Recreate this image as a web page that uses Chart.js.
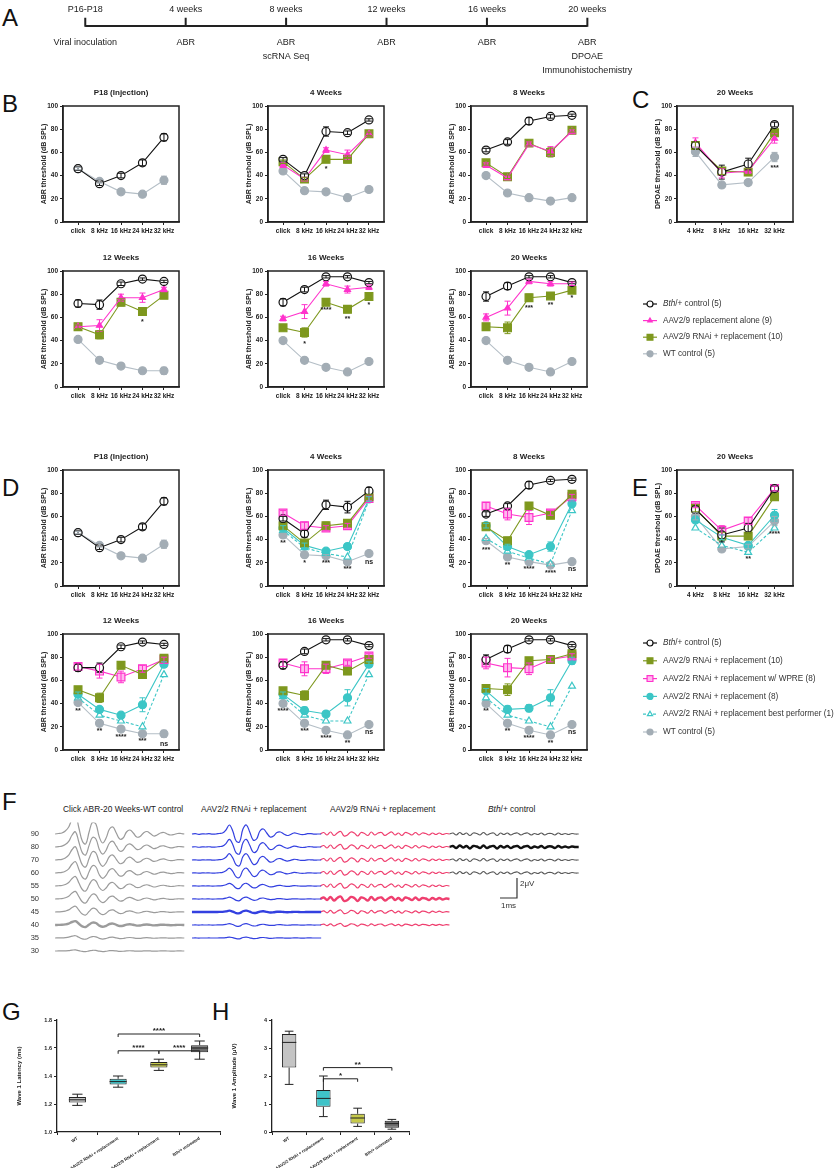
<!DOCTYPE html>
<html lang="en">
<head>
<meta charset="utf-8"/>
<title>Bth/+ ABR rescue figure</title>
<script src="https://cdn.jsdelivr.net/npm/chart.js@4.4.3/dist/chart.umd.min.js"></script>
<style>
  body { margin: 0; background: #fff; font-family: "Liberation Sans", Arial, sans-serif; }
  #page { position: relative; width: 839px; height: 1168px; overflow: hidden; }
  #page canvas { position: absolute; }
  .letter { position: absolute; font-size: 24px; line-height: 1; color: #111; }
  .ftitle { position: absolute; font-size: 8.4px; color: #222; white-space: nowrap; }
</style>
</head>
<body>
<div id="page">
  <div class="letter" style="left:2px;top:6px">A</div>
  <div class="letter" style="left:2px;top:92px">B</div>
  <div class="letter" style="left:632px;top:88px">C</div>
  <div class="letter" style="left:2px;top:476px">D</div>
  <div class="letter" style="left:632px;top:476px">E</div>
  <div class="letter" style="left:2px;top:790px">F</div>
  <div class="letter" style="left:2px;top:1000px">G</div>
  <div class="letter" style="left:212px;top:1000px">H</div>
  <div class="ftitle" style="left:63px;top:804px">Click ABR-20 Weeks-WT control</div>
  <div class="ftitle" style="left:201px;top:804px">AAV2/2 RNAi + replacement</div>
  <div class="ftitle" style="left:330px;top:804px">AAV2/9 RNAi + replacement</div>
  <div class="ftitle" style="left:488px;top:804px"><i>Bth</i>/+ control</div>
</div>
<script>
  // ---------- data ----------
  const timePoints = ['P16-P18', '4 weeks', '8 weeks', '12 weeks', '16 weeks', '20 weeks'];
  const timeTasks = [['Viral inoculation'], ['ABR'], ['ABR', 'scRNA Seq'], ['ABR'], ['ABR'], ['ABR', 'DPOAE', 'Immunohistochemistry']];

  const abrLabels = ['click', '8 kHz', '16 kHz', '24 kHz', '32 kHz'];
  const dpLabels = ['4 kHz', '8 kHz', '16 kHz', '32 kHz'];

  const seriesB = ['Bth/+ control (5)', 'AAV2/9 replacement alone (9)', 'AAV2/9 RNAi + replacement (10)', 'WT control (5)'];
  const seriesD = ['Bth/+ control (5)', 'AAV2/9 RNAi + replacement (10)', 'AAV2/2 RNAi + replacement w/ WPRE (8)',
                   'AAV2/2 RNAi + replacement (8)', 'AAV2/2 RNAi + replacement best performer (1)', 'WT control (5)'];

  // P18, before injection (dB SPL)
  const p18Bth = [46, 33, 40, 51, 73];
  const p18BthErr = [1.5, 1.5, 2, 2.5, 3];
  const p18WT = [46, 35, 26, 24, 36];
  const p18WTErr = [1, 1.5, 1, 1, 3.5];

  // panel B: rows follow seriesB
  const b4wk = [[54, 40, 78, 77, 88], [49, 37, 62, 58, 76], [52, 37, 54, 54, 76], [44, 27, 26, 21, 28]];
  const b4wkErr = [[1.5, 1.5, 4, 1.5, 1], [2, 1.5, 2, 4, 1.5], [1.5, 1.5, 2.5, 3, 1.5], [1.5, 2.5, 1, 1, 2.5]];
  const b4wkSig = ['', '', '*', '', ''];
  const b8wk = [[62, 69, 87, 91, 92], [49, 38, 67, 61, 78], [51, 39, 68, 60, 79], [40, 25, 21, 18, 21]];
  const b8wkErr = [[1.5, 2, 3, 1.5, 1], [2, 1.5, 2, 4, 2], [2, 1.5, 2.5, 4, 1.5], [2, 1, 1, 1, 1]];
  const b12wk = [[72, 71, 89, 93, 91], [52, 53, 77, 77, 84], [52, 45, 73, 65, 79], [41, 23, 18, 14, 14]];
  const b12wkErr = [[3, 4, 1.5, 1, 1], [1.5, 5, 3, 4, 2], [1.5, 3.5, 3, 3, 2], [2, 1, 1, 1, 3]];
  const b12wkSig = ['', '', '', '*', ''];
  const b16wk = [[73, 84, 95, 95, 90], [59, 65, 89, 84, 86], [51, 47, 73, 67, 78], [40, 23, 17, 13, 22]];
  const b16wkErr = [[3, 2, 1, 1, 1], [2, 6, 2, 3, 2], [2, 4, 1.5, 3, 1.5], [1, 1, 1, 1, 1]];
  const b16wkSig = ['', '*', '****', '**', '*'];
  const b20wk = [[78, 87, 95, 95, 90], [60, 68, 91, 89, 89], [52, 51, 77, 78.5, 83.5], [40, 23, 17, 13, 22]];
  const b20wkErr = [[4, 3, 1, 1, 1], [3, 6, 2, 2, 1.5], [2.5, 5, 3, 2, 1.5], [1, 1, 1, 1, 1]];
  const b20wkSig = ['', '', '***', '**', '*'];
  // panel C: DPOAE at 20 weeks
  const cDp = [[66, 43, 50, 84], [68.5, 42, 44, 72], [66, 44, 43, 77], [60.5, 32, 34, 56]];
  const cDpErr = [[3, 6, 5, 2], [4, 4, 2, 4], [3, 3, 3, 2], [4, 1.5, 2, 4]];
  const cDpSig = ['', '', '', '***'];

  // panel D: rows follow seriesD
  const d4wk = [[58, 45, 70, 68, 82], [52, 37, 52, 54, 77], [63, 52, 50, 52, 75.5], [50, 35, 30, 34, 75], [48, 33, 28, 25, 74], [44, 27, 26, 21, 28]];
  const d4wkErr = [[2, 3, 4, 5, 3], [2, 2, 3, 3, 2], [2, 3, 2, 2, 2], [2, 2, 2, 2, 2], null, [1.5, 2, 1, 1, 2]];
  const d4wkSig = ['**', '*', '***', '***', 'ns'];
  const d8wk = [[62, 69, 87, 91, 92], [51, 39, 69, 61, 79], [69, 62, 59, 63, 77], [52, 34, 27, 34, 71], [41, 30, 24, 19, 65], [39, 25, 21, 18, 21]];
  const d8wkErr = [[2, 2, 3, 1, 1], [2, 3, 3, 3, 1.5], [3, 5, 6, 2, 2], [2, 2, 2, 4, 3], null, [2, 1, 1, 1, 1]];
  const d8wkSig = ['***', '**', '****', '****', 'ns'];
  const d12wk = [[71, 71, 89, 93, 91], [52, 45, 73, 65, 79], [72, 68, 63, 70, 78], [48, 35, 30, 39, 74], [45, 30, 25, 20, 65], [41, 23, 18, 14, 14]];
  const d12wkErr = [[3, 4, 1.5, 1, 1], [2, 4, 3, 3, 2], [3, 6, 5, 3, 2], [2, 2, 2, 6, 2], null, [2, 1, 1, 1, 3]];
  const d12wkSig = ['**', '**', '****', '***', 'ns'];
  const d16wk = [[73, 85, 95, 95, 90], [51, 47, 73, 68, 78], [75, 70, 70, 75, 81], [48, 34, 31, 45, 74], [46, 30, 25, 25, 65], [40, 23, 17, 13, 22]];
  const d16wkErr = [[3, 2, 1, 1, 1], [2, 4, 2, 3, 2], [3, 6, 4, 2, 2], [2, 3, 2, 7, 2], null, [1, 1, 1, 1, 1]];
  const d16wkSig = ['****', '***', '****', '**', 'ns'];
  const d20wk = [[78, 87, 95, 95, 90], [53, 52, 77, 78, 83], [75, 71, 70, 78, 81], [51, 35, 36, 45, 77], [45, 30, 25, 20, 55], [40, 23, 17, 13, 22]];
  const d20wkErr = [[4, 3, 1, 1, 1], [2.5, 5, 2, 2, 1.5], [5, 8, 5, 2, 2], [2, 3, 3, 7, 3], null, [1, 1, 1, 1, 1]];
  const d20wkSig = ['**', '**', '****', '**', 'ns'];
  // panel E: DPOAE at 20 weeks
  const eDp = [[66, 44, 50, 84], [67, 43, 43, 77], [69.5, 48, 56, 84], [57, 42, 35, 61], [50, 35, 29, 50], [60, 32, 34, 56]];
  const eDpErr = [[3, 6, 4, 2], [3, 3, 3, 2], [2, 4, 3, 2], [2, 2, 2, 5], null, [3, 1.5, 2, 4]];
  const eDpSig = ['', '', '**', '****'];

  // panel F: click ABR traces, waveform shapes in µV sampled every 0.2 ms
  const levels = [90, 80, 70, 60, 55, 50, 45, 40, 35, 30];
  const wtWave = [0, 0.05, 0.1, 0.3, 0.7, 1.5, 1.9, 0.6, -0.7, -1.0, 0.2, 1.2, 1.0, -0.3, -0.9, -0.4, 0.5, 0.7, 0.1, -0.5,
                  -0.4, 0.2, 0.4, 0.1, -0.3, -0.25, 0.1, 0.25, 0.05, -0.2, -0.1, 0.1, 0.15, 0, -0.1, -0.05, 0.05, 0.05, 0];
  const aav22Wave = [0, 0.03, -0.03, 0.02, 0, 0.03, -0.02, 0, 0.05, 0.1, 0.4, 0.9, 0.3, -0.7, -0.8, 0.5, 0.9, 0.2, -0.6, -0.5,
                     0.3, 0.5, 0.1, -0.3, -0.2, 0.15, 0.2, 0, -0.15, -0.05, 0.1, 0.05, -0.05, -0.05, 0.03, 0.03, -0.02, 0, 0];
  const aav29Wave = [0, 0.15, -0.1, 0.2, -0.15, 0.1, 0.25, -0.2, -0.1, 0.2, 0.1, -0.2, 0.15, 0.05, -0.15, 0.2, -0.1, 0.1, 0.15, -0.15,
                     0.05, 0.2, -0.1, 0.1, -0.15, 0.15, 0.05, -0.1, 0.15, -0.1, 0.1, 0.05, -0.1, 0.1, -0.05, 0.1, -0.05, 0.05, 0];
  const bthWave = [0, 0.1, -0.1, 0.15, -0.05, 0.1, -0.15, 0.1, 0.05, -0.1, 0.15, -0.1, 0.05, 0.1, -0.15, 0.1, -0.05, 0.1, -0.1, 0.05,
                   0.1, -0.1, 0.05, 0.1, -0.1, 0.05, -0.05, 0.1, -0.1, 0.05, 0.05, -0.1, 0.1, -0.05, 0.05, -0.05, 0.05, 0, 0];
  // relative size of the response at each level (0 = not recorded)
  const wtGain = [1, 0.8, 0.7, 0.6, 0.5, 0.4, 0.3, 0.2, 0.12, 0.06];
  const aav22Gain = [1, 0.85, 0.7, 0.55, 0.3, 0.2, 0.15, 0.15, 0.1, 0];
  const aav29Gain = [1, 1, 1, 1, 1, 1, 0.8, 0.6, 0, 0];
  const bthGain = [1, 1, 1, 1, 0, 0, 0, 0, 0, 0];
  const thresholdLevel = [40, 45, 50, 80];
  const scaleBar = { ms: 1, uv: 2 };

  // panels G, H: [min, q1, median, q3, max]
  const boxGroups = ['WT', 'AAV2/2 RNAi + replacement', 'AAV2/9 RNAi + replacement', 'Bth/+ untreated'];
  const latencyStats = [[1.19, 1.21, 1.23, 1.25, 1.27], [1.32, 1.34, 1.36, 1.38, 1.40], [1.44, 1.46, 1.48, 1.50, 1.52], [1.52, 1.57, 1.60, 1.62, 1.65]];
  const amplitudeStats = [[1.7, 2.3, 3.2, 3.5, 3.6], [0.55, 0.9, 1.2, 1.5, 2.0], [0.2, 0.3, 0.5, 0.65, 0.85], [0.1, 0.15, 0.3, 0.4, 0.45]];
  const latencySig = [[1, 3, '****'], [1, 2, '****'], [2, 3, '****']];
  const amplitudeSig = [[1, 3, '**'], [1, 2, '*']];

  // ---------- styles / layout ----------
  const FONT = '"Liberation Sans", Arial, sans-serif';
  Chart.defaults.font.family = FONT;
  Chart.defaults.color = '#222';
  Chart.defaults.animation = false;
  Chart.defaults.responsive = false;
  Chart.defaults.plugins.legend.display = false;
  Chart.defaults.plugins.tooltip.enabled = false;

  const sBth = { color: '#111', fill: '#fff', point: 'circle', r: 4 };
  const sRepl = { color: '#ff33cc', fill: '#ff33cc', point: 'triangle', r: 3.5 };
  const sOlive = { color: '#7e981e', fill: '#7e981e', point: 'rect', r: 5.5 };
  const sWT = { color: '#a3adb5', fill: '#a3adb5', line: '#b4bec6', point: 'circle', r: 4 };
  const sWPRE = { color: '#ff33cc', fill: '#ffb8ee', point: 'rect', r: 5.5 };
  const sTeal = { color: '#3cc6c6', fill: '#3cc6c6', point: 'circle', r: 4 };
  const sBest = { color: '#3cc6c6', fill: '#fff', point: 'triangle', r: 4, dash: [3, 2] };
  const stylesB = [sBth, sRepl, sOlive, sWT];
  const stylesD = [sBth, sOlive, sWPRE, sTeal, sBest, sWT];
  const waveColors = ['#9b9b9b', '#3340e0', '#ef3f6f', '#5a5a5a'];
  const boxFill = ['#c4c4c4', '#3fc3c8', '#c6c94a', '#6e6e6e'];

  const PLOT = 116, YW = 23, XH = 22, TH = 24;
  const page = document.getElementById('page');
  function place(x, y, w, h) {
    const c = document.createElement('canvas');
    c.width = w; c.height = h;
    c.style.left = x + 'px'; c.style.top = y + 'px';
    page.appendChild(c);
    return c;
  }

  // ---------- plugins ----------
  const framePlugin = {
    id: 'frame',
    afterDraw(chart, args, opts) {
      const a = chart.chartArea, ctx = chart.ctx;
      ctx.save();
      ctx.strokeStyle = '#222'; ctx.lineWidth = 1.5;
      ctx.strokeRect(a.left, a.top, a.right - a.left, a.bottom - a.top);
      ctx.fillStyle = '#222'; ctx.font = 'bold 8px ' + FONT;
      ctx.textAlign = 'center'; ctx.textBaseline = 'middle';
      ctx.fillText(opts.title, (a.left + a.right) / 2, a.top - 13);
      ctx.restore();
    }
  };

  const errorBarPlugin = {
    id: 'errorBars',
    afterDatasetsDraw(chart) {
      const ctx = chart.ctx, ys = chart.scales.y;
      chart.data.datasets.forEach((ds, i) => {
        if (!ds.errors) return;
        const meta = chart.getDatasetMeta(i);
        ctx.save();
        ctx.strokeStyle = ds.pointBorderColor; ctx.lineWidth = 1;
        meta.data.forEach((pt, j) => {
          const e = ds.errors[j];
          if (!e) return;
          const v = ds.data[j].y;
          const top = ys.getPixelForValue(v + e), bot = ys.getPixelForValue(v - e);
          ctx.beginPath();
          ctx.moveTo(pt.x, top); ctx.lineTo(pt.x, bot);
          ctx.moveTo(pt.x - 3, top); ctx.lineTo(pt.x + 3, top);
          ctx.moveTo(pt.x - 3, bot); ctx.lineTo(pt.x + 3, bot);
          ctx.stroke();
        });
        ctx.restore();
      });
    }
  };

  const starPlugin = {
    id: 'stars',
    afterDatasetsDraw(chart, args, opts) {
      if (!opts.labels) return;
      const ctx = chart.ctx, xs = chart.scales.x, ys = chart.scales.y;
      ctx.save();
      ctx.fillStyle = '#222'; ctx.font = 'bold 7px ' + FONT;
      ctx.textAlign = 'center'; ctx.textBaseline = 'top';
      opts.labels.forEach((s, j) => {
        if (s) ctx.fillText(s, xs.getPixelForValue(j), ys.getPixelForValue(opts.at[j]) + 3);
      });
      ctx.restore();
    }
  };

  function drawMarker(ctx, st, x, y, r) {
    ctx.fillStyle = st.fill; ctx.strokeStyle = st.color; ctx.lineWidth = 1.2;
    if (Chart.helpers && Chart.helpers.drawPoint) {
      Chart.helpers.drawPoint(ctx, { pointStyle: st.point, rotation: 0, radius: r, borderWidth: 1.2 }, x, y);
    } else {
      ctx.beginPath(); ctx.arc(x, y, r, 0, Math.PI * 2); ctx.fill(); ctx.stroke();
    }
  }

  const keyPlugin = {
    id: 'keyList',
    afterDraw(chart, args, opts) {
      const ctx = chart.ctx;
      ctx.save();
      opts.names.forEach((name, i) => {
        const st = opts.styles[i], y = 8 + i * opts.gap;
        ctx.strokeStyle = st.line || st.color; ctx.lineWidth = 1.2;
        ctx.setLineDash(st.dash || []);
        ctx.beginPath(); ctx.moveTo(3, y); ctx.lineTo(17, y); ctx.stroke();
        ctx.setLineDash([]);
        drawMarker(ctx, st, 10, y, st.r * 0.75);
        ctx.fillStyle = '#333'; ctx.textBaseline = 'middle'; ctx.textAlign = 'left';
        let x = 23, rest = name;
        if (name.startsWith('Bth')) {
          ctx.font = 'italic 8.2px ' + FONT;
          ctx.fillText('Bth', x, y);
          x += ctx.measureText('Bth').width;
          rest = name.slice(3);
        }
        ctx.font = '8.2px ' + FONT;
        ctx.fillText(rest, x, y);
      });
      ctx.restore();
    }
  };

  // ---------- ABR / DPOAE threshold charts ----------
  function abrChart(L, T, title, labels, values, errors, styles, names, sig, anchor, yTitle) {
    const cv = place(L - YW, T - TH, YW + PLOT + 12, TH + PLOT + XH);
    const datasets = [];
    values.forEach((vals, k) => {
      if (!vals) return;
      const st = styles[k];
      datasets.push({
        label: names[k],
        data: vals.map((v, i) => ({ x: i, y: v })),
        errors: errors[k],
        borderColor: st.line || st.color,
        borderWidth: 1.1,
        borderDash: st.dash || [],
        pointStyle: st.point,
        pointRadius: st.r,
        pointBorderColor: st.color,
        pointBackgroundColor: st.fill,
        pointBorderWidth: 1.2
      });
    });
    let at = null;
    if (sig) {
      const ks = anchor === 'min' ? values.map((v, k) => k).filter(k => values[k]) : [anchor];
      at = labels.map((_, i) => Math.min(...ks.map(k => values[k][i] - (errors[k] ? errors[k][i] : 0))));
    }
    const tickFont = { size: 6.5, weight: 'bold' };
    return new Chart(cv, {
      type: 'line',
      data: { datasets },
      options: {
        layout: { padding: { top: TH, right: 12 } },
        plugins: { frame: { title }, stars: { labels: sig, at } },
        scales: {
          x: {
            type: 'linear', min: -0.7, max: labels.length - 0.3,
            afterBuildTicks: s => { s.ticks = labels.map((_, i) => ({ value: i })); },
            ticks: { callback: v => labels[v], font: tickFont, color: '#222', padding: 2, maxRotation: 0, autoSkip: false },
            grid: { display: true, drawOnChartArea: false, tickLength: 3, color: '#222' },
            border: { color: '#222', width: 1.5 },
            afterFit: s => { s.height = XH; }
          },
          y: {
            min: 0, max: 100,
            afterBuildTicks: s => { s.ticks = [0, 20, 40, 60, 80, 100].map(v => ({ value: v })); },
            ticks: { font: tickFont, color: '#222', padding: 2 },
            grid: { display: true, drawOnChartArea: false, tickLength: 3, color: '#222' },
            border: { color: '#222', width: 1.5 },
            title: { display: true, text: yTitle, font: { size: 7, weight: 'bold' }, color: '#222', padding: 0 },
            afterFit: s => { s.width = YW; }
          }
        }
      },
      plugins: [framePlugin, errorBarPlugin, starPlugin]
    });
  }

  const colX = [63, 268, 471], dpX = 677;
  const rowB = [106, 271], rowD = [470, 634];
  const ABR = 'ABR threshold (dB SPL)', DP = 'DPOAE threshold (dB SPL)';

  abrChart(colX[0], rowB[0], 'P18 (Injection)', abrLabels, [p18Bth, null, null, p18WT], [p18BthErr, null, null, p18WTErr], stylesB, seriesB, null, 2, ABR);
  abrChart(colX[1], rowB[0], '4 Weeks', abrLabels, b4wk, b4wkErr, stylesB, seriesB, b4wkSig, 2, ABR);
  abrChart(colX[2], rowB[0], '8 Weeks', abrLabels, b8wk, b8wkErr, stylesB, seriesB, null, 2, ABR);
  abrChart(dpX, rowB[0], '20 Weeks', dpLabels, cDp, cDpErr, stylesB, seriesB, cDpSig, 'min', DP);
  abrChart(colX[0], rowB[1], '12 Weeks', abrLabels, b12wk, b12wkErr, stylesB, seriesB, b12wkSig, 2, ABR);
  abrChart(colX[1], rowB[1], '16 Weeks', abrLabels, b16wk, b16wkErr, stylesB, seriesB, b16wkSig, 2, ABR);
  abrChart(colX[2], rowB[1], '20 Weeks', abrLabels, b20wk, b20wkErr, stylesB, seriesB, b20wkSig, 2, ABR);

  abrChart(colX[0], rowD[0], 'P18 (Injection)', abrLabels, [p18Bth, null, null, null, null, p18WT], [p18BthErr, null, null, null, null, p18WTErr], stylesD, seriesD, null, 'min', ABR);
  abrChart(colX[1], rowD[0], '4 Weeks', abrLabels, d4wk, d4wkErr, stylesD, seriesD, d4wkSig, 'min', ABR);
  abrChart(colX[2], rowD[0], '8 Weeks', abrLabels, d8wk, d8wkErr, stylesD, seriesD, d8wkSig, 'min', ABR);
  abrChart(dpX, rowD[0], '20 Weeks', dpLabels, eDp, eDpErr, stylesD, seriesD, eDpSig, 'min', DP);
  abrChart(colX[0], rowD[1], '12 Weeks', abrLabels, d12wk, d12wkErr, stylesD, seriesD, d12wkSig, 'min', ABR);
  abrChart(colX[1], rowD[1], '16 Weeks', abrLabels, d16wk, d16wkErr, stylesD, seriesD, d16wkSig, 'min', ABR);
  abrChart(colX[2], rowD[1], '20 Weeks', abrLabels, d20wk, d20wkErr, stylesD, seriesD, d20wkSig, 'min', ABR);

  // legends
  function keyChart(x, y, names, styles, gap) {
    const cv = place(x, y, 199, 8 + names.length * gap);
    new Chart(cv, {
      type: 'line',
      data: { datasets: [] },
      options: { scales: { x: { display: false }, y: { display: false } }, plugins: { keyList: { names, styles, gap } } },
      plugins: [keyPlugin]
    });
  }
  keyChart(640, 296, seriesB, stylesB, 16.6);
  keyChart(640, 635, seriesD, stylesD, 17.8);

  // ---------- A: timeline ----------
  const timelineText = {
    id: 'timelineText',
    afterDraw(chart) {
      const ctx = chart.ctx, xs = chart.scales.x, ys = chart.scales.y;
      const y0 = ys.getPixelForValue(0);
      ctx.save();
      ctx.font = '9px ' + FONT; ctx.fillStyle = '#222';
      ctx.textAlign = 'center'; ctx.textBaseline = 'middle';
      timePoints.forEach((t, i) => {
        const x = xs.getPixelForValue(i);
        ctx.fillText(t, x, y0 - 16);
        timeTasks[i].forEach((s, j) => ctx.fillText(s, x, y0 + 17 + j * 14));
      });
      ctx.restore();
    }
  };
  new Chart(place(0, 0, 839, 85), {
    type: 'line',
    data: {
      datasets: [
        { data: timePoints.map((_, i) => ({ x: i, y: 0 })), borderColor: '#222', borderWidth: 2.2, pointRadius: 0 },
        { data: timePoints.map((_, i) => ({ x: i, y: 4.5 })), showLine: false, pointStyle: 'line', rotation: 90,
          pointRadius: 4.5, pointBorderColor: '#222', pointBorderWidth: 2 }
      ]
    },
    options: {
      scales: {
        x: { type: 'linear', display: false, min: -80 / 102, max: (839 - 80) / 102 },
        y: { display: false, min: -62, max: 23 }
      }
    },
    plugins: [timelineText]
  });

  // ---------- F: click ABR traces ----------
  const waves = [wtWave, aav22Wave, aav29Wave, bthWave];
  const gains = [wtGain, aav22Gain, aav29Gain, bthGain];
  const colStart = [0.3, 8.35, 15.9, 23.5];   // ms offset of each column
  const ROW = 1.3, DT = 0.2;
  const traceSets = [];
  waves.forEach((w, g) => {
    levels.forEach((lv, k) => {
      if (!gains[g][k]) return;
      traceSets.push({
        data: w.map((v, i) => ({ x: colStart[g] + i * DT, y: -ROW * k + v * gains[g][k] })),
        borderColor: lv === thresholdLevel[g] && g === 3 ? '#111' : waveColors[g],
        borderWidth: lv === thresholdLevel[g] ? 2.4 : 1.2,
        pointRadius: 0, tension: 0.4
      });
    });
  });
  const barX = 27.47, barY = -6.4;
  traceSets.push({
    data: [{ x: barX - scaleBar.ms, y: barY }, { x: barX, y: barY }, { x: barX, y: barY + scaleBar.uv }],
    borderColor: '#333', borderWidth: 1.2, pointRadius: 0
  });
  const barText = {
    id: 'barText',
    afterDraw(chart) {
      const ctx = chart.ctx, xs = chart.scales.x, ys = chart.scales.y;
      ctx.save();
      ctx.font = '8px ' + FONT; ctx.fillStyle = '#333'; ctx.textBaseline = 'middle';
      ctx.textAlign = 'left';
      ctx.fillText(scaleBar.uv + 'μV', xs.getPixelForValue(barX) + 3, ys.getPixelForValue(barY + scaleBar.uv * 0.7));
      ctx.textAlign = 'center';
      ctx.fillText(scaleBar.ms + 'ms', xs.getPixelForValue(barX - scaleBar.ms / 2), ys.getPixelForValue(barY) + 8);
      ctx.restore();
    }
  };
  // the y axis keeps 7.5 px above and below for its labels, so the range spans 135 px at 10 px per µV
  new Chart(place(30, 815, 560, 150), {
    type: 'line',
    data: { datasets: traceSets },
    options: {
      scales: {
        x: { type: 'linear', display: false, min: 0, max: 540 / 17 },
        y: {
          min: -12.35, max: 1.15,
          afterBuildTicks: s => { s.ticks = levels.map((_, k) => ({ value: -ROW * k })); },
          ticks: { callback: (v, i) => levels[i], font: { size: 7.5 }, color: '#333', padding: 3 },
          grid: { display: false }, border: { display: false },
          afterFit: s => { s.width = 20; }
        }
      }
    },
    plugins: [barText]
  });

  // ---------- G, H: box plots ----------
  const whiskerPlugin = {
    id: 'whiskers',
    afterDatasetsDraw(chart) {
      const ctx = chart.ctx, ys = chart.scales.y, ds = chart.data.datasets[0];
      ctx.save();
      ctx.strokeStyle = '#222'; ctx.lineWidth = 1;
      chart.getDatasetMeta(0).data.forEach((bar, i) => {
        const s = ds.stats[i], hw = bar.width / 2, cw = bar.width * 0.3;
        const p = s.map(v => ys.getPixelForValue(v));
        ctx.beginPath();
        ctx.moveTo(bar.x, p[0]); ctx.lineTo(bar.x, p[1]);
        ctx.moveTo(bar.x, p[3]); ctx.lineTo(bar.x, p[4]);
        ctx.moveTo(bar.x - cw, p[0]); ctx.lineTo(bar.x + cw, p[0]);
        ctx.moveTo(bar.x - cw, p[4]); ctx.lineTo(bar.x + cw, p[4]);
        ctx.moveTo(bar.x - hw, p[2]); ctx.lineTo(bar.x + hw, p[2]);
        ctx.stroke();
      });
      ctx.restore();
    }
  };
  const sigPlugin = {
    id: 'sig',
    afterDatasetsDraw(chart, args, opts) {
      const ctx = chart.ctx, xs = chart.scales.x, ys = chart.scales.y;
      ctx.save();
      ctx.strokeStyle = '#222'; ctx.fillStyle = '#222'; ctx.lineWidth = 1;
      ctx.font = 'bold 8px ' + FONT; ctx.textAlign = 'center'; ctx.textBaseline = 'bottom';
      opts.items.forEach((it, n) => {
        const x1 = xs.getPixelForValue(it[0]), x2 = xs.getPixelForValue(it[1]);
        const y = ys.getPixelForValue(opts.at[n]);
        ctx.beginPath();
        ctx.moveTo(x1, y + 3); ctx.lineTo(x1, y); ctx.lineTo(x2, y); ctx.lineTo(x2, y + 3);
        ctx.stroke();
        ctx.fillText(it[2], (x1 + x2) / 2, y + 1);
      });
      ctx.restore();
    }
  };
  function boxChart(x, y, w, h, yTitle, stats, sig, sigAt, yMin, yMax, yStep, dec) {
    const tickFont = { size: 5.5, weight: 'bold' };
    return new Chart(place(x, y, w, h), {
      type: 'bar',
      data: {
        labels: boxGroups,
        datasets: [{
          data: stats.map(s => [s[1], s[3]]), stats,
          backgroundColor: boxFill, borderColor: '#222', borderWidth: 1, borderSkipped: false,
          barPercentage: 0.42, categoryPercentage: 1
        }]
      },
      options: {
        layout: { padding: { top: 20, right: 6 } },
        plugins: { sig: { items: sig, at: sigAt } },
        scales: {
          x: {
            ticks: { font: { size: 4.3, weight: 'bold' }, color: '#222', minRotation: 33, maxRotation: 33, padding: 1, autoSkip: false },
            grid: { display: true, drawOnChartArea: false, tickLength: 3, color: '#222' },
            border: { color: '#222', width: 1.3 },
            afterFit: s => { s.height = 36; }
          },
          y: {
            min: yMin, max: yMax,
            ticks: { stepSize: yStep, callback: v => v.toFixed(dec), font: tickFont, color: '#222', padding: 2 },
            grid: { display: true, drawOnChartArea: false, tickLength: 3, color: '#222' },
            border: { color: '#222', width: 1.3 },
            title: { display: true, text: yTitle, font: { size: 6, weight: 'bold' }, color: '#222', padding: { top: 16 } },
            afterFit: s => { s.width = 57; }
          }
        }
      },
      plugins: [whiskerPlugin, sigPlugin]
    });
  }
  boxChart(0, 1000, 226, 168, 'Wave 1 Latency (ms)', latencyStats, latencySig, [1.70, 1.58, 1.58], 1.0, 1.8, 0.2, 1);
  boxChart(215, 1000, 200, 168, 'Wave 1 Amplitude (μV)', amplitudeStats, amplitudeSig, [2.3, 1.9], 0, 4, 1, 0);
</script>
</body>
</html>
